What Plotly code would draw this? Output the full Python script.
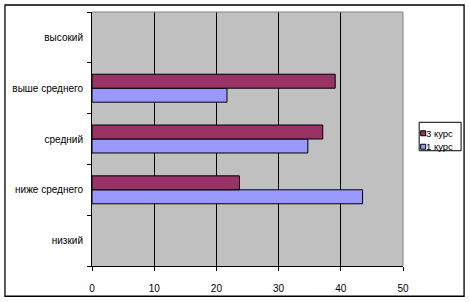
import plotly.graph_objects as go

categories = ["низкий", "ниже среднего", "средний", "выше среднего", "высокий"]
kurs1 = [None, 43.5, 34.7, 21.7, None]
kurs3 = [None, 23.7, 37.1, 39.1, None]
x_ticks = [0, 10, 20, 30, 40, 50]
series = [("1 курс", kurs1, "#9999FF"), ("3 курс", kurs3, "#993366")]

FONT = "Arial, Liberation Sans, sans-serif"

fig = go.Figure()
for name, vals, col in series:
    fig.add_trace(go.Bar(y=categories, x=vals, orientation="h", name=name,
                         showlegend=False,
                         marker=dict(color=col, line=dict(color="black", width=1))))

L, R, T, B = 91.7, 403.3, 11.5, 266.0
W, H = 470, 302
pw, ph = R - L, B - T

def px(x):
    return (x - L) / pw

def py(y):
    return (B - y) / ph

shapes = [
    dict(type="line", xref="paper", yref="paper", x0=0, x1=1, y0=1, y1=1,
         line=dict(color="#808080", width=1)),
    dict(type="line", xref="paper", yref="paper", x0=1, x1=1, y0=0, y1=1,
         line=dict(color="#808080", width=1)),
    dict(type="rect", xref="paper", yref="paper", x0=px(4.5), x1=px(464.5),
         y0=py(296.3), y1=py(4.5), line=dict(color="black", width=1.3)),
    # legend box
    dict(type="rect", xref="paper", yref="paper", x0=px(419.5), x1=px(461.5),
         y0=py(150.5), y1=py(122), line=dict(color="black", width=1),
         fillcolor="white"),
]
annotations = []
# legend entries (reversed order: 3 курс on top)
for i, (name, vals, col) in enumerate(reversed(series)):
    cy = 133.0 + i * 13.5
    shapes.append(dict(type="rect", xref="paper", yref="paper",
                       x0=px(421), x1=px(426), y0=py(cy + 2.5), y1=py(cy - 2.5),
                       fillcolor=col, line=dict(color="black", width=1)))
    annotations.append(dict(xref="paper", yref="paper", x=px(425.5), y=py(cy),
                            xanchor="left", yanchor="middle", text=name,
                            showarrow=False, borderpad=0,
                            font=dict(size=9.5, family=FONT)))

fig.update_layout(
    width=W, height=H, autosize=False,
    margin=dict(l=L, r=W - R, t=T, b=H - B, pad=0, autoexpand=False),
    paper_bgcolor="white", plot_bgcolor="#C0C0C0",
    barmode="group", bargap=0.45, bargroupgap=0,
    font=dict(family=FONT, size=10, color="black"),
    showlegend=False,
    xaxis=dict(range=[0, 50], tickvals=x_ticks, showgrid=True, gridcolor="black",
               gridwidth=1, zeroline=False, showline=True, linecolor="black",
               ticks="outside", ticklen=4, tickcolor="black", fixedrange=True,
               ticklabelstandoff=9),
    yaxis=dict(type="category", categoryorder="array", categoryarray=categories,
               showgrid=False, zeroline=False, showline=True, linecolor="black",
               ticks="outside", ticklen=4, tickcolor="black", tickson="boundaries",
               ticklabelstandoff=6),
    shapes=shapes,
    annotations=annotations,
)

fig.write_html("out.html")
